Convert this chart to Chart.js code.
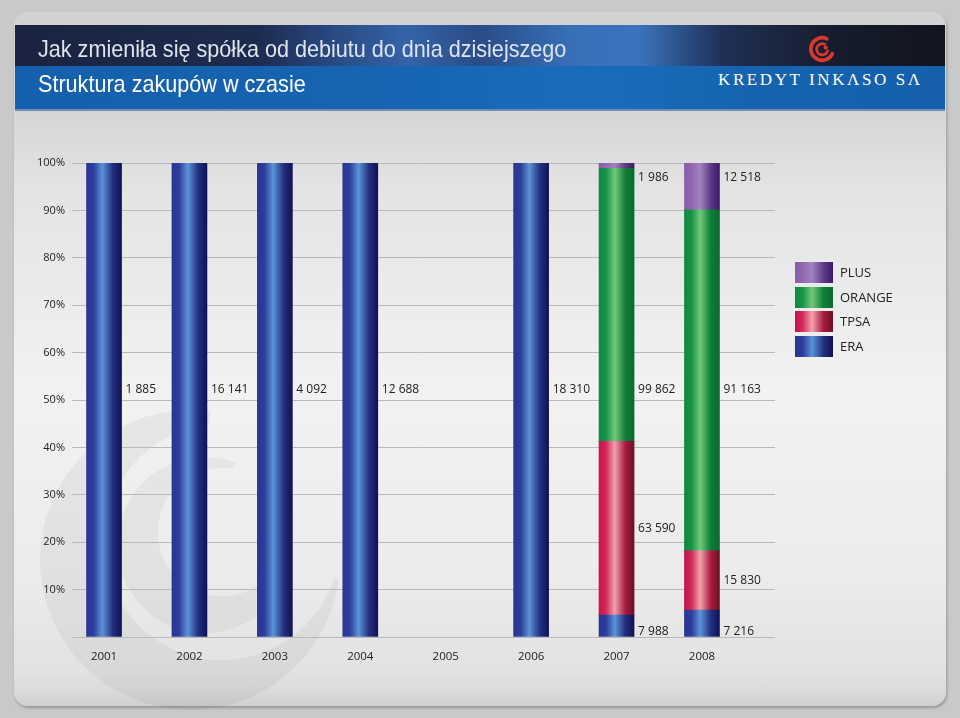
<!DOCTYPE html>
<html lang="pl">
<head>
<meta charset="utf-8">
<title>Struktura zakupów w czasie</title>
<script src="https://cdn.jsdelivr.net/npm/chart.js@4.4.1/dist/chart.umd.min.js"></script>
<style>
  html, body { margin: 0; padding: 0; }
  body { width: 960px; height: 718px; background: #c9c9c9; position: relative; overflow: hidden; font-family: "Open Sans", sans-serif; }
  #panel {
    position: absolute; left: 14px; top: 12px; width: 932px; height: 694px; border-radius: 14px;
    background: linear-gradient(to bottom, #d2d2d2 0px, #d6d6d6 100px, #e4e4e4 180px, #f2f2f2 380px, #ececec 560px, #e2e2e2 660px, #dadada 680px, #cfcfcf 694px);
    box-shadow: 1px 2px 3px rgba(0,0,0,0.25);
  }
  #header { position: absolute; left: 15px; top: 25px; width: 930px; height: 86px; overflow: hidden; }
  #header .top {
    position: absolute; left: 0; top: 0; width: 100%; height: 41px;
    background: linear-gradient(to right, #1a2440 0%, #1d2b4e 26%, #27457c 33%, #3563a8 42%, #2a4c88 50%, #3870b8 60%, #3a74bd 67%, #1f3056 76%, #161c2c 88%, #11151f 100%);
  }
  #header .bottom {
    position: absolute; left: 0; top: 41px; width: 100%; height: 43px;
    background: linear-gradient(to right, #1560ad 0%, #1664b2 40%, #1a6cbb 62%, #1563b0 80%, #155fab 100%);
    border-bottom: 2px solid #6f8fb8;
  }
  .title { position: absolute; left: 23px; color: #fff; font-family: "Liberation Sans", Arial, sans-serif; font-size: 24px; white-space: nowrap; transform: scaleX(0.9); transform-origin: 0 0; }
  #t1 { top: 10px; color: #dde4ee; }
  #t2 { top: 45px; }
  #brand { position: absolute; left: 703px; top: 45px; color: #fff; font-family: "Liberation Serif", "DejaVu Serif", serif; font-size: 17px; letter-spacing: 2.6px; white-space: nowrap; }
  #logo { position: absolute; left: 792px; top: 9px; }
  #wm { position: absolute; left: 0; top: 0; }
  #chart { position: absolute; left: 0; top: 0; }
  #legend { position: absolute; left: 795px; top: 262px; }
  .lg-row { position: relative; height: 24.7px; }
  .lg-box { position: absolute; left: 0; top: 0; width: 38px; height: 21px; }
  .lg-text { position: absolute; left: 45px; top: 1px; font-size: 13px; color: #222; line-height: 19px; white-space: nowrap; }
</style>
</head>
<body>
<div id="panel"></div>
<svg id="wm" width="960" height="718">
  <defs>
    <mask id="m1">
      <rect x="0" y="0" width="960" height="718" fill="white"/>
      <circle cx="222" cy="542" r="118" fill="black"/>
      <path d="M190 560 L215 380 L420 380 L420 590 Z" fill="black"/>
    </mask>
    <mask id="m2">
      <rect x="0" y="0" width="960" height="718" fill="white"/>
      <circle cx="222" cy="532" r="64" fill="black"/>
      <path d="M200 545 L250 430 L330 470 L330 560 Z" fill="black"/>
    </mask>
  </defs>
  <circle cx="190" cy="560" r="150" fill="#000" opacity="0.04" mask="url(#m1)"/>
  <circle cx="205" cy="545" r="88" fill="#000" opacity="0.035" mask="url(#m2)"/>
</svg>
<div id="header">
  <div class="top"></div>
  <div class="bottom"></div>
  <div class="title" id="t1">Jak zmieniła się spółka od debiutu do dnia dzisiejszego</div>
  <div class="title" id="t2">Struktura zakupów w czasie</div>
  <svg id="logo" width="30" height="30" viewBox="0 0 32 32">
    <path d="M21 5 A12 12 0 1 0 27 21" fill="none" stroke="#d8392f" stroke-width="4" stroke-linecap="round"/>
    <path d="M19 11 A6 6 0 1 0 22 18" fill="none" stroke="#d8392f" stroke-width="3" stroke-linecap="round"/>
    <circle cx="20" cy="14.5" r="2.3" fill="#d8392f"/>
  </svg>
  <div id="brand">KREDYT INKΛSO SΛ</div>
</div>
<canvas id="chart" width="960" height="718"></canvas>
<div id="legend"></div>

<script>
// Struktura zakupów (wartości z etykiet wykresu)
const years = [2001, 2002, 2003, 2004, 2005, 2006, 2007, 2008];
const era = [1885, 16141, 4092, 12688, 0, 18310, 7988, 7216];
const tpsa = [0, 0, 0, 0, 0, 0, 63590, 15830];
const orange = [0, 0, 0, 0, 0, 0, 99862, 91163];
const plus = [0, 0, 0, 0, 0, 0, 1986, 12518];
const yTicks = [0, 10, 20, 30, 40, 50, 60, 70, 80, 90, 100];

const totals = years.map((_, i) => era[i] + tpsa[i] + orange[i] + plus[i]);

// kolory gradientu "walca": lewa krawedz, jasny srodek, prawa krawedz
const palette = {
  ERA: ['#283593', '#2c3d9a', '#5a93d6', '#23307f', '#0f1256'],
  TPSA: ['#c8124a', '#d22a5c', '#f4a0ac', '#a61c40', '#6e0f26'],
  ORANGE: ['#0e8a3e', '#169448', '#72c878', '#0f7e3a', '#0a6a30'],
  PLUS: ['#8a5cab', '#9066b0', '#9f84c2', '#5e3a88', '#3a1a66']
};

function fmt(n) {
  return String(n).replace(/\B(?=(\d{3})+(?!\d))/g, ' ');
}

// udzial procentowy w danym roku (puste lata -> brak slupka)
function pct(arr) {
  return years.map((yr, i) => ({ x: yr, y: arr[i] ? arr[i] / totals[i] * 100 : null }));
}

function barGradient(name) {
  return (ctx) => {
    const chart = ctx.chart;
    const c = palette[name];
    if (!chart.chartArea) return c[0];
    const cx = chart.scales.x.getPixelForValue(years[ctx.dataIndex]);
    const g = chart.ctx.createLinearGradient(cx - 17.5, 0, cx + 17.5, 0);
    g.addColorStop(0, c[0]);
    g.addColorStop(0.2, c[1]);
    g.addColorStop(0.45, c[2]);
    g.addColorStop(0.75, c[3]);
    g.addColorStop(1, c[4]);
    return g;
  };
}

const series = [
  { name: 'ERA', raw: era, labelMode: 'bottom' },
  { name: 'TPSA', raw: tpsa, labelMode: 'mid' },
  { name: 'ORANGE', raw: orange, labelMode: 'half' },
  { name: 'PLUS', raw: plus, labelMode: 'top' }
];

const valueLabels = {
  id: 'valueLabels',
  afterDatasetsDraw(chart) {
    const { ctx, scales: { y } } = chart;
    ctx.save();
    ctx.font = '12px "Open Sans"';
    ctx.fillStyle = '#222';
    ctx.textBaseline = 'middle';
    ctx.textAlign = 'left';
    chart.data.datasets.forEach((ds, di) => {
      const meta = chart.getDatasetMeta(di);
      meta.data.forEach((bar, i) => {
        const v = ds.raw[i];
        if (!v) return;
        const mode = ds.data[i].y > 99.9 ? 'half' : ds.labelMode;
        let yPx;
        if (mode === 'half') yPx = y.getPixelForValue(50) - 10;
        else if (mode === 'top') yPx = y.getPixelForValue(100) + 15;
        else if (mode === 'bottom') yPx = y.getPixelForValue(0) - 5;
        else yPx = (bar.y + bar.base) / 2;
        ctx.fillText(fmt(v), bar.x + bar.width / 2 + 4, yPx);
      });
    });
    ctx.restore();
  }
};

new Chart(document.getElementById('chart'), {
  type: 'bar',
  data: {
    datasets: series.map(s => ({
      label: s.name,
      data: pct(s.raw),
      raw: s.raw,
      labelMode: s.labelMode,
      backgroundColor: barGradient(s.name),
      borderWidth: 0,
      barThickness: 35,
      grouped: false
    }))
  },
  options: {
    responsive: false,
    animation: false,
    layout: { padding: { left: 30, top: 163, right: 185, bottom: 51 } },
    scales: {
      x: {
        type: 'linear',
        offset: false,
        min: 2000.625,
        max: 2008.855,
        grid: { display: false, drawTicks: false },
        border: { display: false },
        afterBuildTicks: (s) => { s.ticks = years.map(v => ({ value: v })); },
        afterFit: (s) => { s.height = 30; },
        ticks: {
          padding: 13,
          color: '#222',
          font: { family: 'Open Sans', size: 11.5 },
          callback: (v) => String(v)
        }
      },
      y: {
        stacked: true,
        min: 0,
        max: 100,
        afterBuildTicks: (s) => { s.ticks = yTicks.map(v => ({ value: v })); },
        afterFit: (s) => { s.width = 42; },
        grid: { color: '#b9b9b9', lineWidth: 1, drawTicks: false },
        border: { display: false },
        ticks: {
          padding: 7,
          color: '#222',
          font: { family: 'Open Sans', size: 11 },
          callback: (v) => v === 0 ? '' : v + '%'
        }
      }
    },
    plugins: {
      legend: { display: false },
      tooltip: { enabled: false }
    }
  },
  plugins: [valueLabels]
});

// legenda (od gory: PLUS, ORANGE, TPSA, ERA)
const legend = document.getElementById('legend');
series.slice().reverse().forEach(s => {
  const c = palette[s.name];
  const row = document.createElement('div');
  row.className = 'lg-row';
  row.innerHTML = `<div class="lg-box" style="background: linear-gradient(to right, ${c[0]} 0%, ${c[1]} 20%, ${c[2]} 45%, ${c[3]} 75%, ${c[4]} 100%)"></div><div class="lg-text">${s.name}</div>`;
  legend.appendChild(row);
});
</script>
</body>
</html>
